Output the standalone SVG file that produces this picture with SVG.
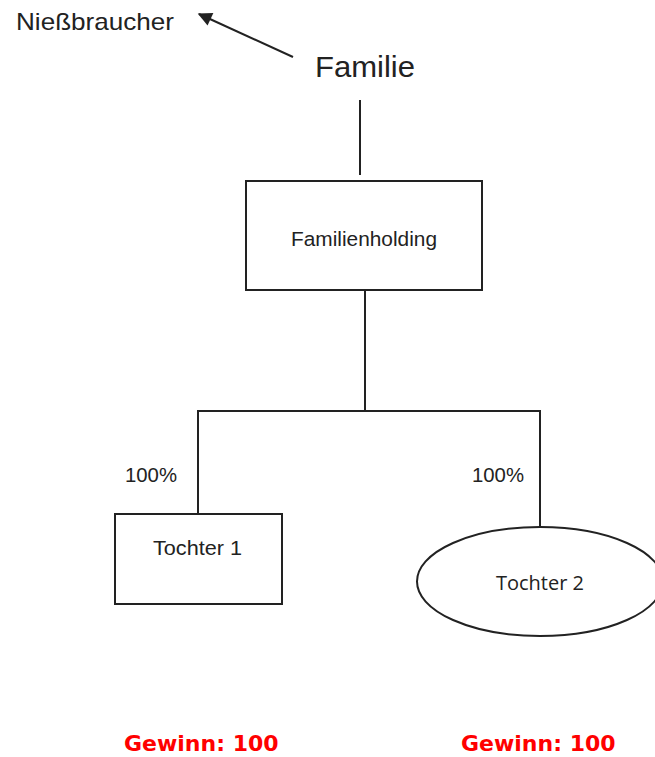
<svg xmlns="http://www.w3.org/2000/svg" width="655" height="757" viewBox="0 0 655 757">
<style>
.t{font-family:"Liberation Sans",Arial,sans-serif;fill:#222}
.s{stroke:#222;stroke-width:2;fill:none}
.n{stroke:#222;stroke-width:2;fill:#fff}
.g{font-family:"DejaVu Sans",Verdana,sans-serif;font-weight:bold;font-size:22px;fill:#f00}
</style>
<defs>
<marker id="ah" viewBox="0 0 10 10" refX="9" refY="5" markerWidth="8" markerHeight="7" orient="auto" markerUnits="strokeWidth">
<path d="M0,0 L10,5 L0,10 z" fill="#222"/>
</marker>
</defs>
<rect width="655" height="757" fill="#fff"/>
<g id="connectors">
<line class="s" x1="293" y1="57" x2="199" y2="14" marker-end="url(#ah)"/>
<line class="s" x1="360" y1="100" x2="360" y2="175"/>
<polyline class="s" points="365,290 365,411"/>
<polyline class="s" points="198,514 198,411 540,411 540,527"/>
</g>
<g id="niessbraucher"><text class="t" x="16" y="30" font-size="24" textLength="158" lengthAdjust="spacingAndGlyphs">Nießbraucher</text></g>
<g id="familie"><text class="t" x="315" y="77" font-size="30" textLength="100" lengthAdjust="spacingAndGlyphs">Familie</text></g>
<g id="familienholding">
<rect class="n" x="246" y="181" width="236" height="109"/>
<text class="t" x="291" y="246" font-size="20.5" textLength="146" lengthAdjust="spacingAndGlyphs">Familienholding</text>
</g>
<g id="label1"><text class="t" x="125" y="482" font-size="20" textLength="52" lengthAdjust="spacingAndGlyphs">100%</text></g>
<g id="label2"><text class="t" x="472" y="482" font-size="20" textLength="52" lengthAdjust="spacingAndGlyphs">100%</text></g>
<g id="tochter1">
<rect class="n" x="115" y="514" width="167" height="90"/>
<text class="t" x="153" y="555" font-size="21" textLength="89" lengthAdjust="spacingAndGlyphs">Tochter 1</text>
</g>
<g id="tochter2">
<ellipse class="n" cx="540" cy="581.5" rx="123" ry="54.5"/>
<text x="540" y="590" font-size="20" text-anchor="middle" style="font-family:'Open Sans',sans-serif;fill:#222">Tochter 2</text>
</g>
<g id="gewinn1"><text class="g" x="124" y="751">Gewinn: 100</text></g>
<g id="gewinn2"><text class="g" x="461" y="751">Gewinn: 100</text></g>
</svg>
